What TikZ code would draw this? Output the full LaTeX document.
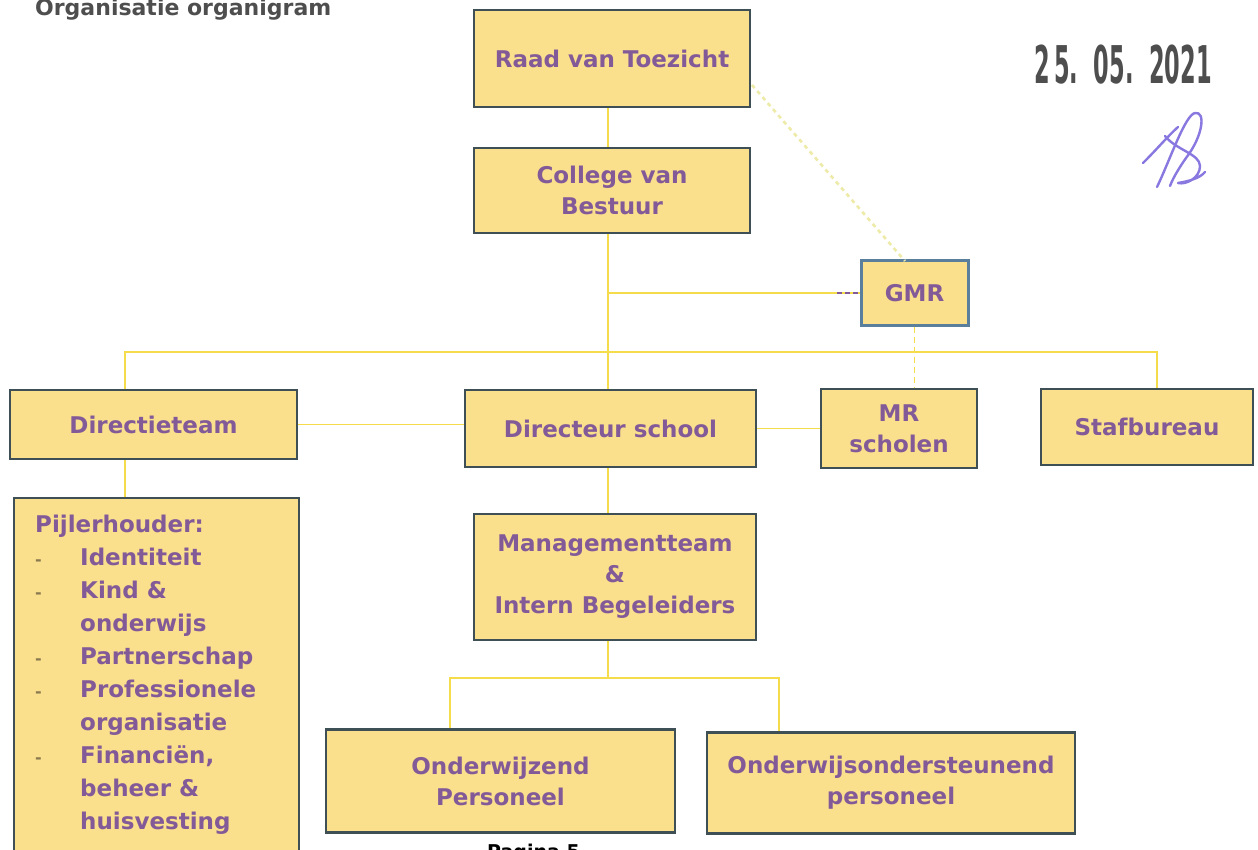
\documentclass[tikz,border=0pt]{standalone}
\usepackage{fontspec}
\newfontfamily\boxfont{DejaVu Sans Bold}
\newfontfamily\stampfont{DejaVu Sans Condensed Bold}
\definecolor{boxfill}{HTML}{FADF8C}
\definecolor{boxline}{HTML}{3E5056}
\definecolor{gmrline}{HTML}{5A7F9C}
\definecolor{txtpurple}{HTML}{835A98}
\definecolor{conn}{HTML}{F5DC4A}
\definecolor{paleconn}{HTML}{EEEBA8}
\definecolor{sigcol}{HTML}{8878E0}
\definecolor{titlegrey}{HTML}{4E4E4E}
\definecolor{dashcol}{HTML}{8A7A50}
\tikzset{
  orgbox/.style={draw=boxline, line width=2.4pt, fill=boxfill, rectangle, inner sep=0pt,
    align=center, text=txtpurple, font=\boxfont\fontsize{23}{31}\selectfont},
  link/.style={draw=conn, line width=1.8pt},
  palelink/.style={draw=paleconn, line width=2.6pt, dash pattern=on 4pt off 4pt},
  sig/.style={draw=sigcol, line width=2.4pt, line cap=round, line join=round},
}
\newcommand{\pdash}{\textcolor{dashcol}{\fontsize{16}{33}\selectfont -}}
\begin{document}
\begin{tikzpicture}[x=1pt,y=-1pt]
\useasboundingbox (0,0) rectangle (1258,850);
\fill[white] (0,0) rectangle (1258,850);

% title, page number, stamp
\node[anchor=base west, inner sep=0pt, text=titlegrey, font=\boxfont\fontsize{22}{24}\selectfont] (title) at (35,16) {Organisatie organigram};
\node[anchor=base west, inner sep=0pt, text=black, font=\boxfont\fontsize{19}{24}\selectfont] (page) at (487,858) {Pagina 5};
\node[inner sep=0pt, text=titlegrey, font=\stampfont\fontsize{52}{56}\selectfont] (stamp) at (1123,65) {\scalebox{0.48}[1]{2\,5.\ \ 05.\ \ 2021}};

% boxes
\node[orgbox, minimum width=276, minimum height=97] (raad) at (612,58.5) {Raad van Toezicht};
\node[orgbox, minimum width=276, minimum height=85] (college) at (612,190.5) {College van\\Bestuur};
\node[orgbox, draw=gmrline, line width=3pt, minimum width=107, minimum height=64] (gmr) at (914.5,293) {GMR};
\node[orgbox, minimum width=287, minimum height=69] (directieteam) at (153.5,424.5) {Directieteam};
\node[orgbox, minimum width=291, minimum height=77] (directeur) at (610.5,428.5) {Directeur school};
\node[orgbox, minimum width=156, minimum height=79] (mr) at (899,428.5) {MR\\scholen};
\node[orgbox, minimum width=212, minimum height=76] (staf) at (1147,427) {Stafbureau};
\node[orgbox, minimum width=285, minimum height=370] (pijler) at (156.5,683) {};
\node[anchor=north west, inner sep=0pt, text=txtpurple, font=\boxfont\fontsize{23}{33}\selectfont, align=left] (pijlertext) at (35,509) {%
\begin{tabular}{@{}p{45pt}@{}l@{}}
\multicolumn{2}{@{}l@{}}{Pijlerhouder:}\\
\pdash & Identiteit\\
\pdash & Kind \&\\
 & onderwijs\\
\pdash & Partnerschap\\
\pdash & Professionele\\
 & organisatie\\
\pdash & Financiën,\\
 & beheer \&\\
 & huisvesting
\end{tabular}};
\node[orgbox, minimum width=282, minimum height=126] (mt) at (615,577) {Managementteam\\\&\\Intern Begeleiders};
\node[orgbox, minimum width=349, minimum height=103] (onderwijzend) at (500.5,781) {Onderwijzend\\Personeel};
\node[orgbox, minimum width=368, minimum height=101] (oos) at (891,783) {Onderwijsondersteunend\\personeel};

% helper coordinates
\coordinate (spine) at (608,0);
\coordinate (gj) at (608,293);
\coordinate (bl) at (125,352);
\coordinate (br) at (1157,352);
\coordinate (lj) at (450,678);
\coordinate (rj) at (779,678);
\coordinate (mj) at (608,678);
\coordinate (raadside) at (752,85);
\coordinate (gmrtop) at (905,261);
\coordinate (gmrdash) at (837,293);

% connectors
\draw[link] (raad.south -| spine) -- (college.north -| spine);
\draw[link] (college.south -| spine) -- (directeur.north -| spine);
\draw[link] (gj) -- (gmr.west);
\draw[txtpurple, line width=1.6pt, dash pattern=on 5pt off 3pt] (gmrdash) -- (gmr.west);
\draw[link] (directieteam.north -| bl) -- (bl) -- (br) -- (staf.north -| br);
\draw[palelink] (raadside) -- (gmrtop);
\draw[link, dash pattern=on 6pt off 4pt] (gmr.south) -- (gmr.south |- mr.north);
\draw[link] (directieteam.east) -- (directieteam.east -| directeur.west);
\draw[link] (directeur.east) -- (mr.west);
\draw[link] (directieteam.south -| bl) -- (pijler.north -| bl);
\draw[link] (directeur.south -| spine) -- (mt.north -| spine);
\draw[link] (mt.south -| spine) -- (mj);
\draw[link] (onderwijzend.north -| lj) -- (lj) -- (rj) -- (oos.north -| rj);

% signature
\draw[sig] (1143,163) .. controls (1158,148) and (1168,136) .. (1178,127);
\draw[sig] (1157,187) .. controls (1170,160) and (1185,115) .. (1195,113) .. controls (1206,111) and (1203,136) .. (1186,158) .. controls (1179,168) and (1173,178) .. (1170,186);
\draw[sig] (1165,136) .. controls (1176,150) and (1200,154) .. (1200,166) .. controls (1200,178) and (1186,185) .. (1178,183) .. controls (1190,181) and (1200,178) .. (1205,172);
\end{tikzpicture}
\end{document}
